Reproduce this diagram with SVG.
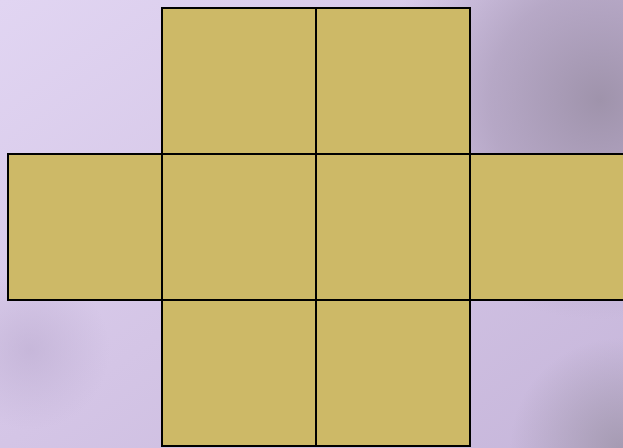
<svg xmlns="http://www.w3.org/2000/svg" width="623" height="448" viewBox="0 0 623 448">
<defs>
<linearGradient id="bg" x1="0" y1="0" x2="1" y2="1">
<stop offset="0" stop-color="#e1d5f2"/>
<stop offset="0.5" stop-color="#d4c5e6"/>
<stop offset="1" stop-color="#c6b6da"/>
</linearGradient>
<radialGradient id="tr" cx="600" cy="100" r="220" gradientUnits="userSpaceOnUse">
<stop offset="0" stop-color="#9f93ab" stop-opacity="1"/>
<stop offset="0.5" stop-color="#a99bb8" stop-opacity="0.7"/>
<stop offset="1" stop-color="#b0a2c2" stop-opacity="0"/>
</radialGradient>
<radialGradient id="br" cx="620" cy="448" r="110" gradientUnits="userSpaceOnUse">
<stop offset="0" stop-color="#a298ae" stop-opacity="0.9"/>
<stop offset="1" stop-color="#a298ae" stop-opacity="0"/>
</radialGradient>
<radialGradient id="bl" cx="30" cy="350" r="80" gradientUnits="userSpaceOnUse">
<stop offset="0" stop-color="#bcacd0" stop-opacity="0.6"/>
<stop offset="1" stop-color="#bcacd0" stop-opacity="0"/>
</radialGradient>
</defs>
<style>
.sq{fill:#cdb967;stroke:#000;stroke-width:2}
</style>
<rect width="623" height="448" fill="url(#bg)"/>
<rect width="623" height="448" fill="url(#tr)"/>
<rect width="623" height="448" fill="url(#br)"/>
<rect width="623" height="448" fill="url(#bl)"/>
<g id="top-left"><rect class="sq" x="162" y="8" width="154" height="146"/></g>
<g id="top-right"><rect class="sq" x="316" y="8" width="154" height="146"/></g>
<g id="mid-1"><rect class="sq" x="8" y="154" width="154" height="146"/></g>
<g id="mid-2"><rect class="sq" x="162" y="154" width="154" height="146"/></g>
<g id="mid-3"><rect class="sq" x="316" y="154" width="154" height="146"/></g>
<g id="mid-4"><rect class="sq" x="470" y="154" width="154" height="146"/></g>
<g id="bottom-left"><rect class="sq" x="162" y="300" width="154" height="146"/></g>
<g id="bottom-right"><rect class="sq" x="316" y="300" width="154" height="146"/></g>
<g id="connectors"></g>
</svg>
